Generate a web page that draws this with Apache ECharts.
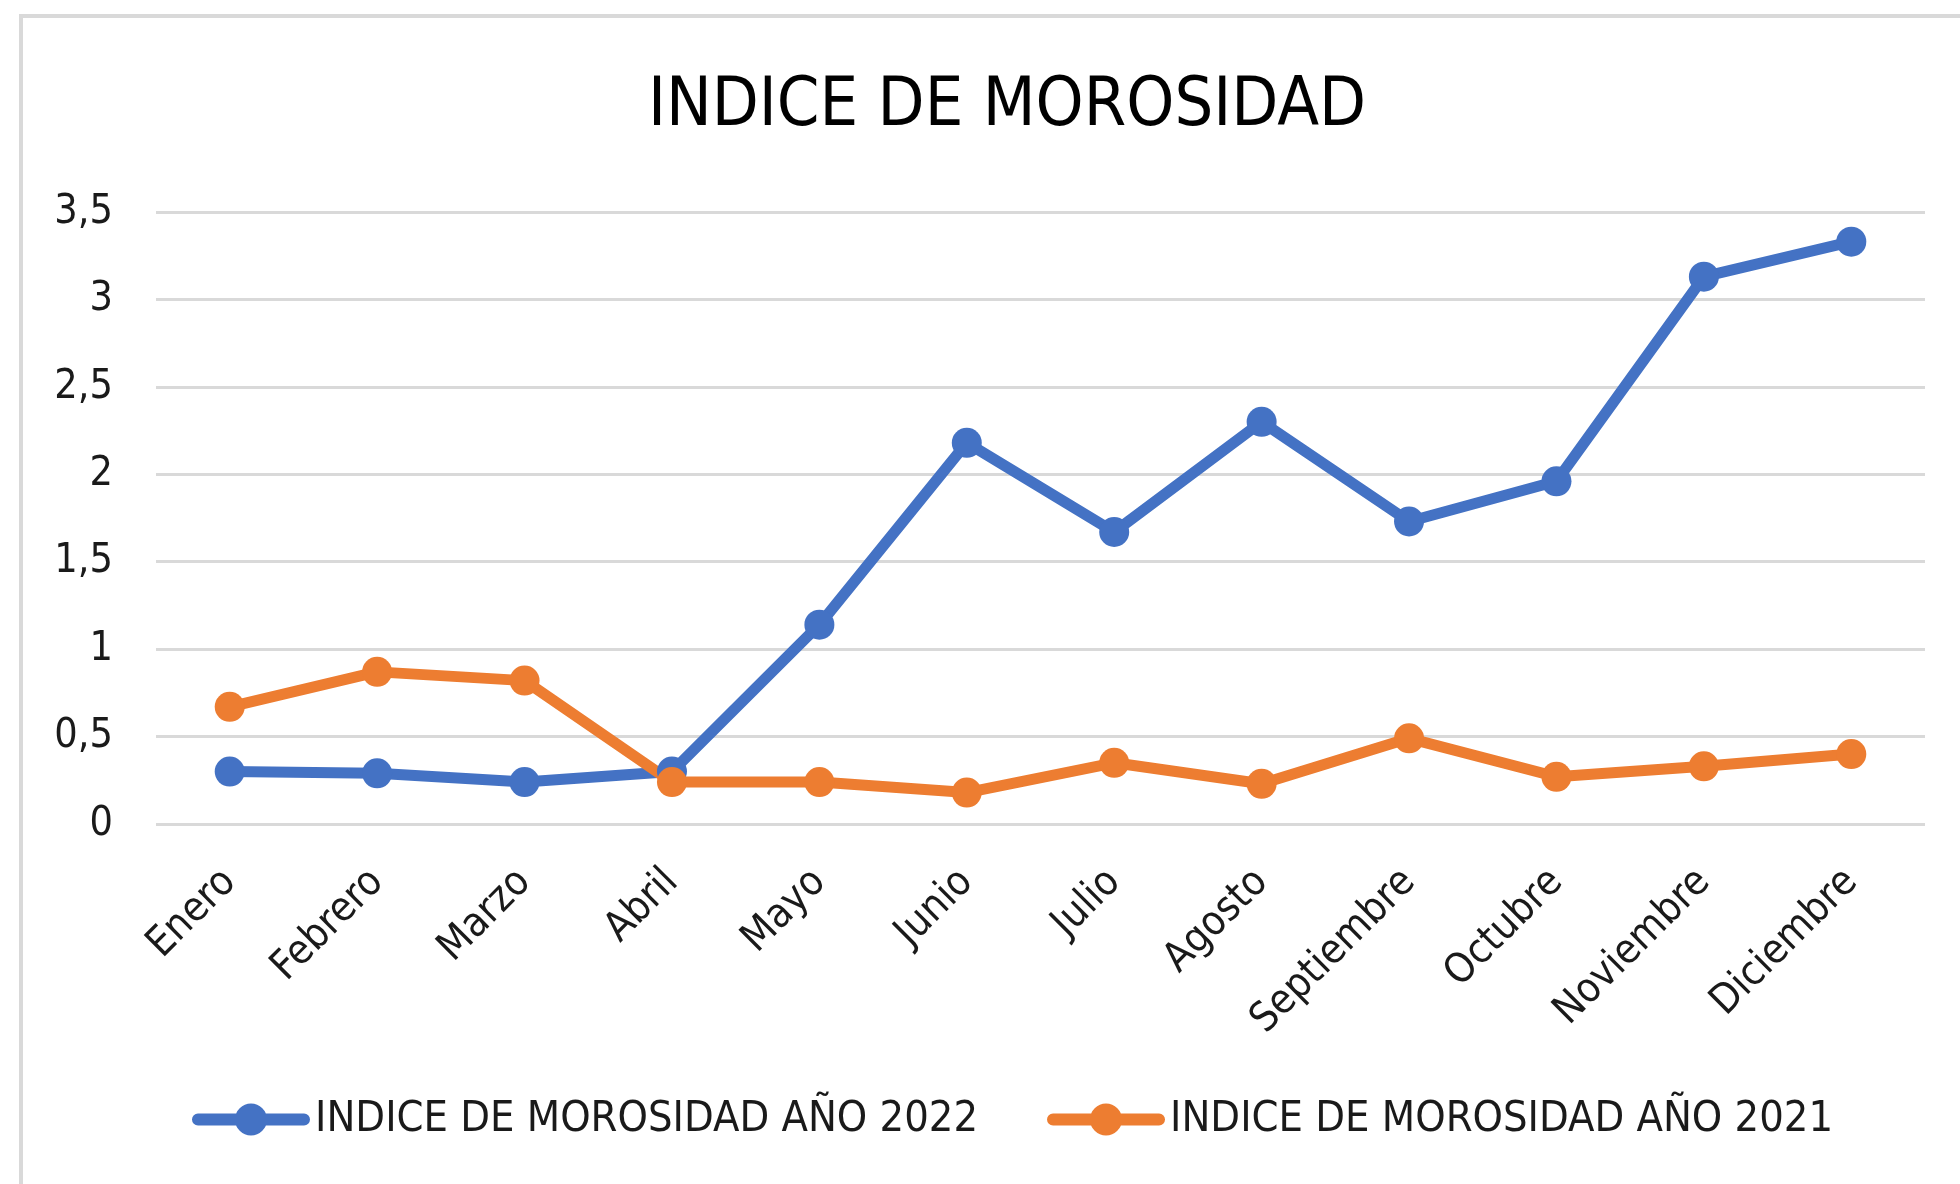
<!DOCTYPE html>
<html>
<head>
<meta charset="utf-8">
<script src="https://cdn.jsdelivr.net/npm/echarts@6/dist/echarts.min.js"></script>
<style>
  html, body { margin: 0; padding: 0; background: #fff; }
  #main { width: 1960px; height: 1184px; }
</style>
</head>
<body>
<div id="main"></div>
<script>
// datos
var meses = ['Enero', 'Febrero', 'Marzo', 'Abril', 'Mayo', 'Junio', 'Julio', 'Agosto', 'Septiembre', 'Octubre', 'Noviembre', 'Diciembre'];
var morosidad2022 = [0.30, 0.29, 0.24, 0.30, 1.14, 2.18, 1.67, 2.30, 1.73, 1.96, 3.13, 3.33];
var morosidad2021 = [0.67, 0.87, 0.82, 0.24, 0.24, 0.18, 0.35, 0.23, 0.49, 0.27, 0.33, 0.40];

var fuente = "'Liberation Sans Narrow', 'DejaVu Sans Condensed', 'Liberation Sans', sans-serif";
var colorTexto = '#1a1a1a';
var azul = '#4472c4';
var naranja = '#ed7d31';

// icono de leyenda: barra redondeada + circulo (118 x 32)
var iconoLinea = 'path://M6,10 L112,10 A6,6 0 0,1 112,22 L6,22 A6,6 0 0,1 6,10 Z ' +
  'M43,16 A16,16 0 1,1 75,16 A16,16 0 1,1 43,16 Z';

var myChart = echarts.init(document.getElementById('main'));

var option = {
  backgroundColor: '#fff',
  animation: false,
  // marco gris del grafico
  graphic: [{
    type: 'rect',
    shape: { x: 21, y: 16, width: 2000, height: 1300 },
    style: { fill: 'none', stroke: '#d9d9d9', lineWidth: 4 },
    silent: true
  }],
  title: {
    text: 'INDICE DE MOROSIDAD',
    left: 1002,
    top: 68,
    textAlign: 'center',
    textStyle: {
      fontFamily: fuente,
      fontSize: 68,
      fontWeight: 'normal',
      color: '#000'
    }
  },
  legend: {
    left: 192,
    top: 1098,
    padding: 0,
    itemWidth: 118,
    itemHeight: 32,
    itemGap: 69,
    textStyle: {
      fontFamily: fuente,
      fontSize: 43,
      color: colorTexto
    },
    data: [
      { name: 'INDICE DE MOROSIDAD AÑO 2022', icon: iconoLinea },
      { name: 'INDICE DE MOROSIDAD AÑO 2021', icon: iconoLinea }
    ]
  },
  grid: {
    left: 156,
    right: 35,
    top: 212,
    bottom: 360,
    containLabel: false
  },
  xAxis: {
    type: 'category',
    data: meses,
    boundaryGap: true,
    axisLine: { show: false },
    axisTick: { show: false },
    axisLabel: {
      rotate: 45,
      margin: 52,
      fontFamily: fuente,
      fontSize: 41,
      color: colorTexto,
      interval: 0
    }
  },
  yAxis: {
    type: 'value',
    min: 0,
    max: 3.5,
    interval: 0.5,
    axisLine: { show: false },
    axisTick: { show: false },
    axisLabel: {
      margin: 43,
      fontFamily: fuente,
      fontSize: 41,
      color: colorTexto,
      formatter: function (v) { return String(v).replace('.', ','); }
    },
    splitLine: { lineStyle: { color: '#d9d9d9', width: 3 } }
  },
  series: [{
    name: 'INDICE DE MOROSIDAD AÑO 2022',
    type: 'line',
    data: morosidad2022,
    symbol: 'circle',
    symbolSize: 30,
    color: azul,
    lineStyle: { width: 11, color: azul },
    itemStyle: { color: azul }
  }, {
    name: 'INDICE DE MOROSIDAD AÑO 2021',
    type: 'line',
    data: morosidad2021,
    symbol: 'circle',
    symbolSize: 30,
    color: naranja,
    lineStyle: { width: 11, color: naranja },
    itemStyle: { color: naranja }
  }]
};

myChart.setOption(option);
</script>
</body>
</html>
